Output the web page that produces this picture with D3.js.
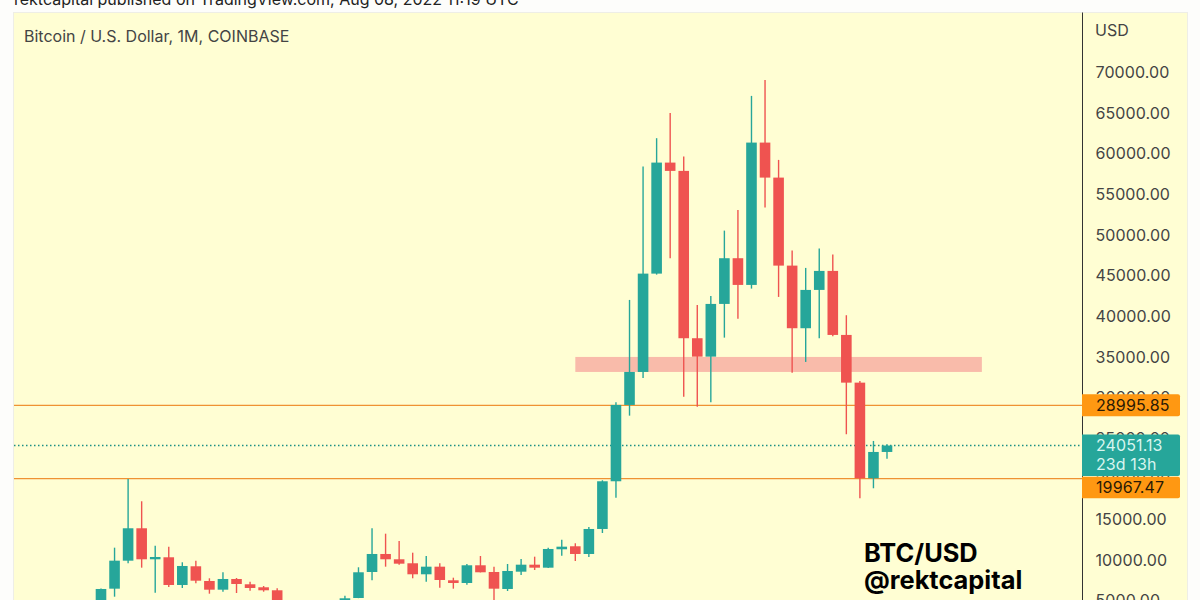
<!DOCTYPE html>
<html lang="en">
<head>
<meta charset="utf-8">
<title>BTC/USD monthly</title>
<script src="https://d3js.org/d3.v7.min.js"></script>
<style type="text/css">
	html, body { margin: 0; padding: 0; background: #fdfdfb; overflow: hidden; }
	text { font-family: Inter, "Liberation Sans", sans-serif; }
</style>
</head>
<body>
<script>
// candles left to right, null = month is below the bottom edge of the picture
var opens = [4400, 6436, 9881, 13868, 10053, 10299, 6891, 9192, 7383, 6312, 7629, 6977, 6608, 6239,
	null, null, null, null, 4100, 5291, 8490, 10705, 10053, 9561, 8207, 9143, 7469, 7137, 9315, 8490,
	6399, 8527, 9389, 9020, 11284, 11653, 10705, 13782, 19651, 29040, 33100, 45196, 58855, 57833, 37247,
	34983, 41468, 47091, 43806, 61316, 57009, 46181, 38478, 43191, 45529, 37653, 31784, 20020, 23256];
var highs = [6470, 11481, 19934, 17190, 11727, 11604, 9684, 9881, 7715, 8454, 7752, 7297, 6768, 6485,
	null, null, null, null, 5574, 9069, 13868, 13203, 12305, 10865, 10459, 9561, 7789, 9475, 10459, 9143,
	9475, 10090, 10373, 11481, 12465, 12022, 14028, 19774, 29372, 41960, 58363, 61857, 64970, 59593, 41345,
	42452, 50488, 53035, 67062, 69031, 59187, 48027, 45898, 48272, 47534, 40077, 31993, 24610, 24204];
var lows = [4100, 5451, 9561, 9020, 5943, 6645, 6522, 7100, 5820, 6066, 5906, 6189, 6066, 3500,
	null, null, null, null, 4050, 5270, 7469, 9143, 9389, 7715, 7297, 6559, 6436, 6928, 8440, 3850,
	6153, 8121, 8737, 8980, 10496, 9844, 10336, 13289, 17633, 27723, 32362, 45073, 47091, 30061, 28830,
	29372, 37321, 39659, 43351, 53318, 42329, 33014, 34331, 37247, 37500, 25435, 17559, 18790, 22432];
var closes = [6399, 9881, 13868, 10053, 10336, 6891, 9229, 7420, 6312, 7629, 7014, 6522, 6239, 4000,
	null, null, null, null, 5254, 8454, 10705, 10053, 9512, 8207, 9143, 7506, 7137, 9315, 8454, 6436,
	8614, 9389, 9020, 11321, 11604, 10705, 13782, 19651, 29040, 33100, 45196, 58855, 57833, 37247, 34983,
	41468, 47091, 43806, 61316, 57009, 46181, 38478, 43191, 45529, 37653, 31784, 20020, 23256, 24051.13];

var yTicks = [5000, 10000, 15000, 20000, 25000, 30000, 35000, 40000, 45000, 50000, 55000, 60000, 65000, 70000];
var levels = [28995.85, 19967.47];
var lastPrice = 24051.13;
var countdown = "23d 13h";
var zoneLow = 33100, zoneHigh = 34946, zoneFrom = 35, zoneTo = 65;

var w = 1200, h = 600;
var green = "#26a69a", red = "#ef5350", paper = "#fffed3", orange = "#ff9812";

var x = d3.scaleLinear().domain([0, 58]).range([101, 887]);
var y = d3.scaleLinear().domain([0, 70000]).range([641, 72]);

var svg = d3.select("body").append("svg").attr("width", w).attr("height", h).style("display", "block");

svg.append("rect").attr("x", 13.5).attr("y", 12.5).attr("width", 1174).attr("height", 600)
	.attr("fill", paper).attr("stroke", "#eeeee6");

svg.append("text").attr("x", 14).attr("y", 5).attr("font-size", 16).attr("fill", "#222")
	.text("rektcapital published on TradingView.com, Aug 08, 2022 11:19 UTC");
svg.append("text").attr("x", 24).attr("y", 41.6).attr("font-size", 16).attr("fill", "#444")
	.text("Bitcoin / U.S. Dollar, 1M, COINBASE");

// right price axis
var axis = svg.append("g").attr("transform", "translate(1082.5,0.5)")
	.call(d3.axisRight(y).tickValues(yTicks).tickSize(0).tickPadding(13).tickFormat(d3.format(".2f")));
axis.select(".domain").attr("d", "M0,12V600").attr("stroke", "#333");
axis.selectAll("text").attr("font-size", 16).attr("fill", "#444")
	.style("font-family", "Inter, sans-serif").style("letter-spacing", "0.1px");
svg.append("text").attr("x", 1095).attr("y", 36).attr("font-size", 16).attr("fill", "#444").text("USD");

// resistance zone
svg.append("rect")
	.attr("x", x(zoneFrom)).attr("width", x(zoneTo) - x(zoneFrom))
	.attr("y", y(zoneHigh)).attr("height", y(zoneLow) - y(zoneHigh))
	.attr("fill", "#f9bbaa");

svg.selectAll(".level").data(levels).enter().append("line").attr("class", "level")
	.attr("x1", 14).attr("x2", 1082)
	.attr("y1", function(d) { return y(d); }).attr("y2", function(d) { return y(d); })
	.attr("stroke", "#ef9233").attr("stroke-width", 1.3);

svg.append("line").attr("x1", 14).attr("x2", 1082).attr("y1", y(lastPrice)).attr("y2", y(lastPrice))
	.attr("stroke", "#1c8f85").attr("stroke-width", 1.3).attr("stroke-dasharray", "1.5 2.5");

var candles = d3.range(opens.length).filter(function(i) { return opens[i] !== null; });

function colour(i) {
	return closes[i] >= opens[i] ? green : red;
}

svg.selectAll(".wick").data(candles).enter().append("line").attr("class", "wick")
	.attr("x1", function(i) { return x(i); }).attr("x2", function(i) { return x(i); })
	.attr("y1", function(i) { return y(highs[i]); }).attr("y2", function(i) { return y(lows[i]); })
	.attr("stroke", colour).attr("stroke-width", 1.4);

svg.selectAll(".body").data(candles).enter().append("rect").attr("class", "body")
	.attr("x", function(i) { return x(i) - 5.3; })
	.attr("width", 10.6)
	.attr("y", function(i) { return y(Math.max(opens[i], closes[i])); })
	.attr("height", function(i) { return Math.abs(y(opens[i]) - y(closes[i])); })
	.attr("fill", colour);

// price tags on the axis
function tag(top, height, fill) {
	svg.append("path")
		.attr("d", "M1082," + top + "H1178a2,2 0 0 1 2,2V" + (top + height - 2) + "a2,2 0 0 1 -2,2H1082Z")
		.attr("fill", fill);
}
tag(y(levels[0]) - 11, 22, orange);
tag(y(lastPrice) - 11, 41.5, green);
tag(y(levels[1]) - 2, 21.5, orange);

function tagText(py, s, fill) {
	svg.append("text").attr("x", 1096).attr("y", py).attr("font-size", 16).attr("fill", fill)
		.style("letter-spacing", "0.1px").text(s);
}
tagText(y(levels[0]) + 6, d3.format(".2f")(levels[0]), "#2a1a05");
tagText(y(lastPrice) + 6, d3.format(".2f")(lastPrice), "#d8f5ef");
tagText(y(lastPrice) + 25, countdown, "#d8f5ef");
tagText(y(levels[1]) + 14, d3.format(".2f")(levels[1]), "#2a1a05");

svg.append("text").attr("x", 864).attr("y", 562).attr("font-size", 25.4).attr("font-weight", "bold")
	.attr("fill", "#000").text("BTC/USD");
svg.append("text").attr("x", 864).attr("y", 589).attr("font-size", 25.4).attr("font-weight", "bold")
	.attr("fill", "#000").text("@rektcapital");
</script>
</body>
</html>
